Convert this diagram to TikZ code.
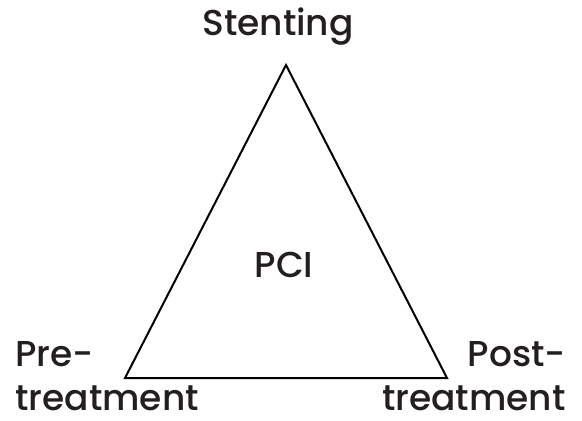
\documentclass[tikz,border=0pt]{standalone}
\usepackage{fontspec}
\setmainfont{Poppins}[Ligatures=NoCommon, UprightFont=* Medium]
\usetikzlibrary{positioning}
\definecolor{txtgray}{HTML}{231F20}
\tikzset{
  lbl/.style={text=txtgray, font=\fontsize{27}{32.5}\selectfont, inner sep=0pt},
  edge/.style={line width=1.5pt, line join=miter}
}
\begin{document}
\begin{tikzpicture}[x=0.75pt, y=-0.75pt]
  \useasboundingbox (0,0) rectangle (582,421);

  % corners of the triangle
  \coordinate (top) at (286,65);
  \coordinate (left) at (125,378);
  \coordinate (right) at (447,378);

  \draw[edge] (top) -- (left) -- (right) -- cycle;

  % labels
  \node[lbl, anchor=base] (stent) at (278,36) {Stenting};
  \node[lbl] (pci) at (284,265) {PCI};
  \node[lbl, align=left, anchor=base west] (pre) at (15,410) {Pre-\\treatment};
  \node[lbl, align=right, anchor=base east] (post) at (566,410) {Post-\\treatment};
\end{tikzpicture}
\end{document}
